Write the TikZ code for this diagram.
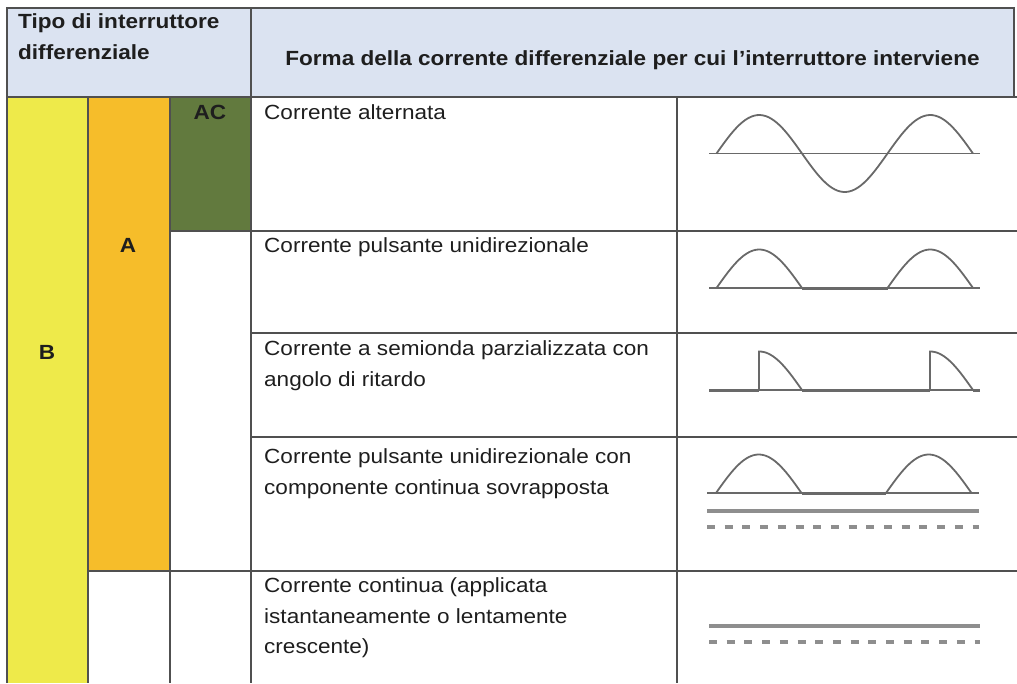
\documentclass[tikz,border=0pt]{standalone}
\usepackage{fontspec}
\setmainfont{Liberation Sans}[FakeStretch=1.1]
\usetikzlibrary{calc}
\definecolor{hdr}{RGB}{219,227,241}
\definecolor{ylw}{RGB}{238,234,74}
\definecolor{org}{RGB}{246,189,42}
\definecolor{grn}{RGB}{98,122,62}
\definecolor{rule}{RGB}{80,80,80}
\definecolor{wave}{RGB}{105,105,105}
\definecolor{ink}{RGB}{30,30,30}

\begin{document}
\begin{tikzpicture}[x=1pt,y=-1pt,
  txt/.style={anchor=north west,inner sep=0,align=left,text=ink,font=\fontsize{20.5}{30.5}\selectfont},
  lbl/.style={anchor=base,inner sep=0,text=ink,font=\fontsize{20.5}{26}\selectfont\bfseries},
  grid/.style={draw=rule,line width=1.7pt},
  sig/.style={draw=wave,line width=1.8pt},
  flat/.style={draw=wave,line width=3.4pt},
  dc/.style={draw=wave!75,line width=3.2pt}]
\useasboundingbox (0,0) rectangle (1017,683);
\def\amp{38.5}
\def\k{2.10526} % degrees per pt, period 171
% coloured cells
\fill[hdr] (7,8) rectangle (1014,97);
\fill[ylw] (7,97) rectangle (88,683);
\fill[org] (88,97) rectangle (170,571);
\fill[grn] (170,97) rectangle (251,231);
% table rules
\draw[grid] (7,8) rectangle (1014,97);
\draw[grid] (251,8) -- (251,683);
\foreach \c in {7,88,170,677} \draw[grid] (\c,97) -- (\c,683);
\draw[grid] (7,97) -- (1017,97);
\draw[grid] (170,231) -- (1017,231);
\foreach \r in {333,437} \draw[grid] (251,\r) -- (1017,\r);
\draw[grid] (88,571) -- (1017,571);
% headers and type labels
\node[txt,font=\fontsize{20.5}{30.5}\selectfont\bfseries] (tipo) at (18,13.5) {Tipo di interruttore\\differenziale};
\node[lbl] (forma) at (632.5,65.5) {Forma della corrente differenziale per cui l’interruttore interviene};
\node[lbl] (ac) at (210,119) {AC};
\node[lbl] (a) at (128,252.5) {A};
\node[lbl] (b) at (47,359.5) {B};
% descriptions
\node[txt] (t1) at (264,104) {Corrente alternata};
\node[txt] (t2) at (264,237.5) {Corrente pulsante unidirezionale};
\node[txt] (t3) at (264,340.5) {Corrente a semionda parzializzata con\\angolo di ritardo};
\node[txt] (t4) at (264,448.5) {Corrente pulsante unidirezionale con\\componente continua sovrapposta};
\node[txt] (t5) at (264,577.5) {Corrente continua (applicata\\istantaneamente o lentamente\\crescente)};
% alternating
\draw[sig] (709,153.5) -- (980,153.5);
\draw[sig] plot[domain=716.5:973,samples=90] (\x,{153.5-\amp*sin((\x-716.5)*\k)});
% pulsating
\draw[sig] (709,288) -- (980,288);
\draw[sig] plot[domain=716.5:802,samples=40] (\x,{288-\amp*sin((\x-716.5)*\k)});
\draw[sig] plot[domain=887.5:973,samples=40] (\x,{288-\amp*sin((\x-887.5)*\k)});
\draw[flat] (802,288.5) -- (887.5,288.5);
% phase controlled
\draw[sig] (709,390) -- (980,390);
\draw[flat] (709,390.5) -- (759,390.5);
\draw[flat] (802,390.5) -- (930,390.5);
\draw[flat] (973,390.5) -- (980,390.5);
\draw[sig] (759,390) -- plot[domain=759:802,samples=30] (\x,{390-\amp*sin((\x-716.5)*\k)});
\draw[sig] (930,390) -- plot[domain=930:973,samples=30] (\x,{390-\amp*sin((\x-887.5)*\k)});
% pulsating with dc
\draw[sig] (707,493) -- (979,493);
\draw[sig] plot[domain=716:801.5,samples=40] (\x,{493-\amp*sin((\x-716)*\k)});
\draw[sig] plot[domain=886:971.5,samples=40] (\x,{493-\amp*sin((\x-886)*\k)});
\draw[flat] (801.5,493.5) -- (886,493.5);
\draw[dc] (707,511) -- (979,511);
\draw[dc,dash pattern=on 8pt off 9.7pt] (707,527) -- (979,527);
% dc
\draw[dc] (709,626) -- (980,626);
\draw[dc,dash pattern=on 8pt off 9.7pt] (709,642) -- (980,642);
\end{tikzpicture}
\end{document}
